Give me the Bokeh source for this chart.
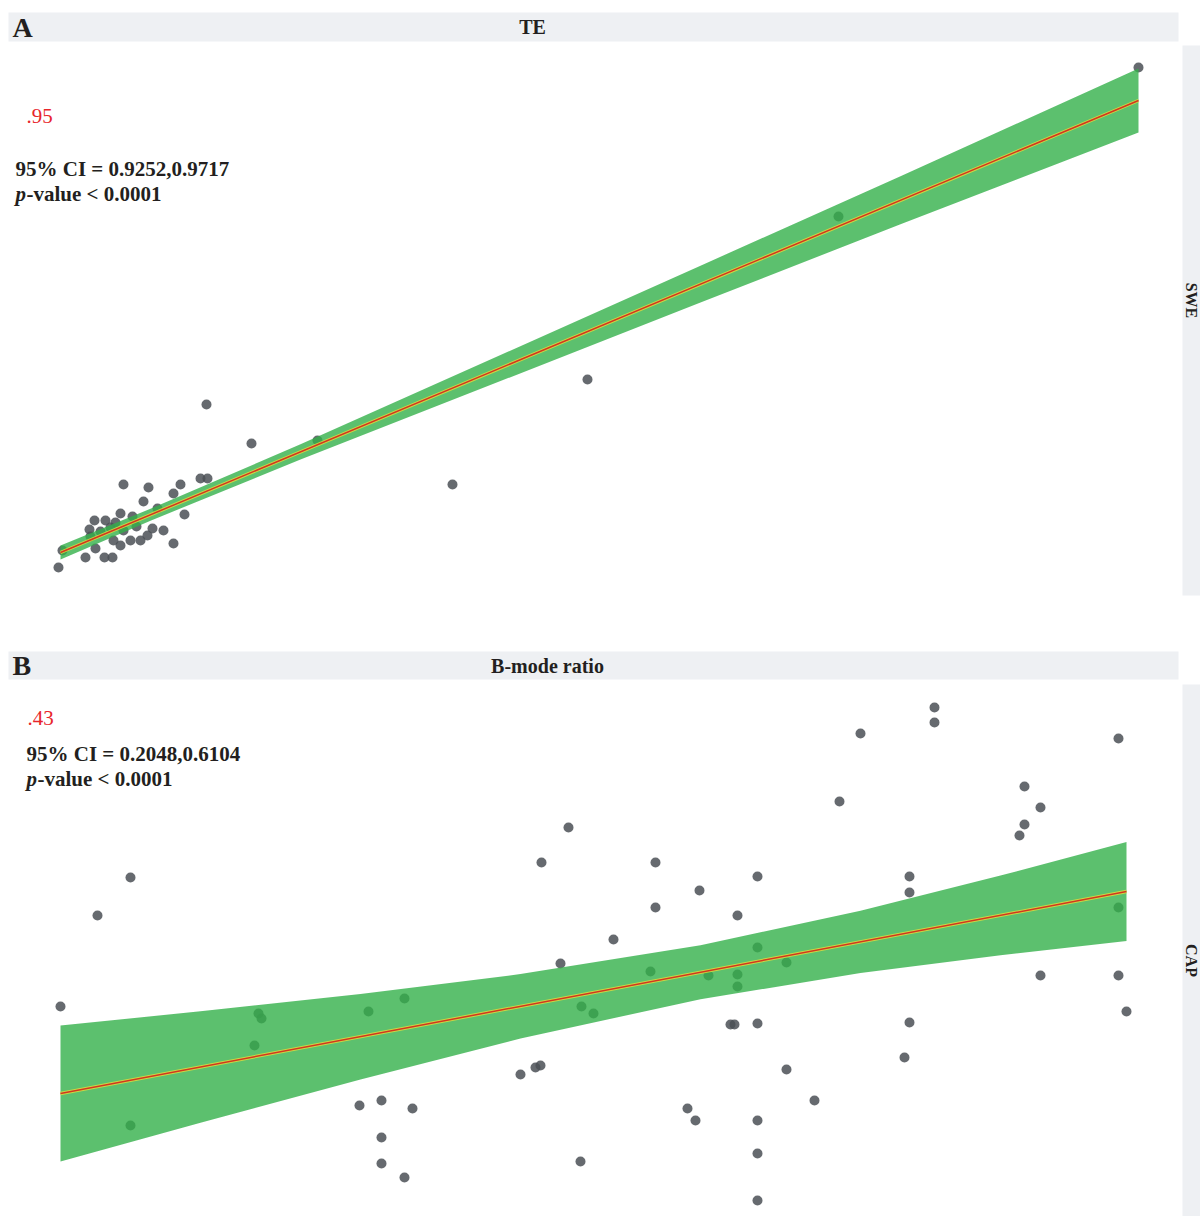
import math
from bokeh.plotting import figure
from bokeh.models import Range1d, Label
from bokeh.layouts import column, row
from bokeh.embed import file_html
from bokeh.resources import INLINE

# ---------------- Panel A : TE (x) vs SWE (y) ----------------
te_x = [2.5, 2.7, 3.85, 4.05, 4.1, 4.3, 4.35, 4.6, 4.8, 5.2, 4.85, 5.35, 5.25, 5.1, 5.6,
        5.6, 5.75, 5.75, 6.1, 6.2, 6.4, 6.6, 6.75, 6.95, 7.0, 7.2, 7.45, 7.75, 8.25, 8.25,
        8.6, 8.8, 9.6, 9.95, 9.9, 12.15, 15.45, 22.2, 28.95, 41.5, 56.5]
swe_y = [3.65, 4.5, 4.15, 5.55, 5.2, 6.0, 4.6, 5.45, 4.15, 4.15, 6.0, 5.9, 5.0, 5.65, 6.35,
         4.75, 7.8, 5.5, 5.0, 6.2, 5.7, 5.0, 6.95, 5.25, 7.65, 5.6, 6.6, 5.5, 7.35, 4.85,
         7.8, 6.3, 8.1, 8.1, 11.8, 9.85, 10.0, 7.8, 13.05, 21.2, 28.65]
fitA_x = [2.6, 56.5]
fitA_y = [4.4, 27.0]
bandA_x = [2.6, 7.1, 14.6, 24.6, 34.6, 44.6, 56.5]
bandA_lo = [4.05, 5.99, 9.05, 12.97, 16.9, 20.81, 25.4]
bandA_hi = [4.75, 6.59, 9.81, 14.27, 18.74, 23.21, 28.6]

# ---------------- Panel B : B-mode ratio (x) vs CAP (y) ----------------
bmode_x = [0.852, 0.889, 0.922, 0.922, 1.046, 1.050, 1.053, 1.160, 1.196, 1.151, 1.173, 1.204,
           1.173, 1.173, 1.196, 1.312, 1.327, 1.332, 1.333, 1.360, 1.352, 1.373, 1.385, 1.372,
           1.405, 1.447, 1.447, 1.442, 1.491, 1.500, 1.529, 1.529, 1.529, 1.549, 1.549, 1.578,
           1.522, 1.526, 1.549, 1.578, 1.606, 1.479, 1.487, 1.549, 1.549, 1.549, 1.631, 1.652,
           1.726, 1.726, 1.701, 1.701, 1.701, 1.696, 1.816, 1.832, 1.816, 1.811, 1.910, 1.910,
           1.832, 1.910, 1.918]
cap_y = [251, 296.5, 315.5, 191.5, 231.5, 247.5, 245, 248.5, 255, 201.5, 204, 200,
         185.5, 172.5, 165.5, 217, 220.5, 221.5, 323, 340.5, 272.5, 251, 247.5, 173.5,
         284.5, 323, 300.5, 268.5, 309, 266.5, 296.5, 267, 261, 316, 280.5, 273,
         242, 242, 242.5, 219.5, 204, 200, 194, 194, 177.5, 154, 353.5, 387.5,
         400.5, 393, 316, 308, 243, 225.5, 361, 350.5, 342, 336.5, 385, 300.5,
         266.5, 266.5, 248.5]
fitB_x = [0.852, 1.918]
fitB_y = [207.5, 308.5]
bandB_x = [0.852, 0.992, 1.152, 1.312, 1.492, 1.652, 1.792, 1.918]
bandB_lo = [173.5, 192.9, 214.5, 235.0, 254.65, 267.7, 276.65, 283.75]
bandB_hi = [241.5, 248.6, 257.3, 267.2, 281.65, 298.9, 316.45, 333.25]

# texts
panel_letters = ["A", "B"]
x_titles = ["TE", "B-mode ratio"]
y_titles = ["SWE", "CAP"]
r_texts = [".95", ".43"]
ci_texts = ["95% CI = 0.9252,0.9717", "95% CI = 0.2048,0.6104"]
p_texts = ["-value < 0.0001", "-value < 0.0001"]

FONT = "Liberation Serif"
STRIP = "#eef0f3"
INK = "#231f20"
RED = "#e8262c"
POINT = "#4b5056"
BAND = "#33b04a"
W = 1200


def base(w, h, xr, yr, bg="white", mb=(0, 0, 0, 0)):
    p = figure(width=w, height=h, x_range=xr, y_range=yr, output_backend="svg",
               toolbar_location=None, x_axis_location=None, y_axis_location=None,
               outline_line_color=None, background_fill_color=bg, border_fill_color="white")
    p.min_border_top, p.min_border_right, p.min_border_bottom, p.min_border_left = mb
    p.xgrid.visible = False
    p.ygrid.visible = False
    return p


def header(h, mb, letter, title, title_x):
    fw = W - mb[1] - mb[3]
    fh = h - mb[0] - mb[2]
    p = base(W, h, Range1d(0, fw), Range1d(0, fh), bg=STRIP, mb=mb)
    p.add_layout(Label(x=4, y=fh / 2, text=letter, text_font=FONT, text_font_style="bold",
                       text_font_size="28px", text_color=INK, text_baseline="middle"))
    p.add_layout(Label(x=title_x, y=fh / 2, text=title, text_font=FONT, text_font_style="bold",
                       text_font_size="20px", text_color=INK, text_baseline="middle",
                       text_align="center"))
    return p


def side(h, mb, label, label_y):
    fh = h - mb[0] - mb[2]
    fw = 18 - mb[1] - mb[3]
    p = base(18, h, Range1d(0, fw), Range1d(0, fh), bg=STRIP, mb=mb)
    p.add_layout(Label(x=fw / 2, y=label_y, text=label, text_font=FONT, text_font_style="bold",
                       text_font_size="16px", text_color=INK, text_baseline="middle",
                       text_align="center", angle=-math.pi / 2))
    return p


def stats(p, x_r, y_r, x_ci, y_ci, y_p, i):
    p.add_layout(Label(x=x_r, y=y_r, text=r_texts[i], text_font=FONT, text_font_size="21px",
                       text_color=RED, text_baseline="middle"))
    p.add_layout(Label(x=x_ci, y=y_ci, text=ci_texts[i], text_font=FONT, text_font_style="bold",
                       text_font_size="21px", text_color=INK, text_baseline="middle"))
    p.add_layout(Label(x=x_ci, y=y_p, text="p", text_font=FONT, text_font_style="bold italic",
                       text_font_size="21px", text_color=INK, text_baseline="middle"))
    p.add_layout(Label(x=x_ci, y=y_p, x_offset=11, text=p_texts[i], text_font=FONT,
                       text_font_style="bold", text_font_size="21px", text_color=INK,
                       text_baseline="middle"))


def draw(p, xs, ys, bx, blo, bhi, fx, fy):
    p.scatter(xs, ys, size=10, fill_color=POINT, fill_alpha=0.85, line_color=None)
    p.varea(x=bx, y1=blo, y2=bhi, fill_color=BAND, fill_alpha=0.8)
    p.line(fx, fy, line_color="#e6dc3a", line_width=3.5, line_alpha=0.8)
    p.line(fx, fy, line_color="#d2361f", line_width=1.5)


# ----- panel A -----  (mb = top, right, bottom, left)
headA = header(42, (12, 22, 1, 8), panel_letters[0], x_titles[0], 524)
mainA = base(1182, 598, Range1d(0, 58.7), Range1d(2.25, 29.75), mb=(3, 0, 45, 8))
draw(mainA, te_x, swe_y, bandA_x, bandA_lo, bandA_hi, fitA_x, fitA_y)
stats(mainA, 0.9, 26.25, 0.35, 23.6, 22.35, 0)
sideA = side(598, (3, 0, 45, 0), y_titles[0], 295)

# ----- panel B -----
headB = header(44, (11, 22, 5, 8), panel_letters[1], x_titles[1], 539)
mainB = base(1182, 532, Range1d(0.8, 1.974), Range1d(146, 412), mb=(0, 0, 0, 8))
draw(mainB, bmode_x, cap_y, bandB_x, bandB_lo, bandB_hi, fitB_x, fitB_y)
stats(mainB, 0.819, 395.5, 0.818, 377.5, 365, 1)
sideB = side(532, (0, 0, 0, 0), y_titles[1], 256)

layout = column(headA, row(mainA, sideA), headB, row(mainB, sideB))

open("out.html", "w").write(file_html(layout, INLINE))
